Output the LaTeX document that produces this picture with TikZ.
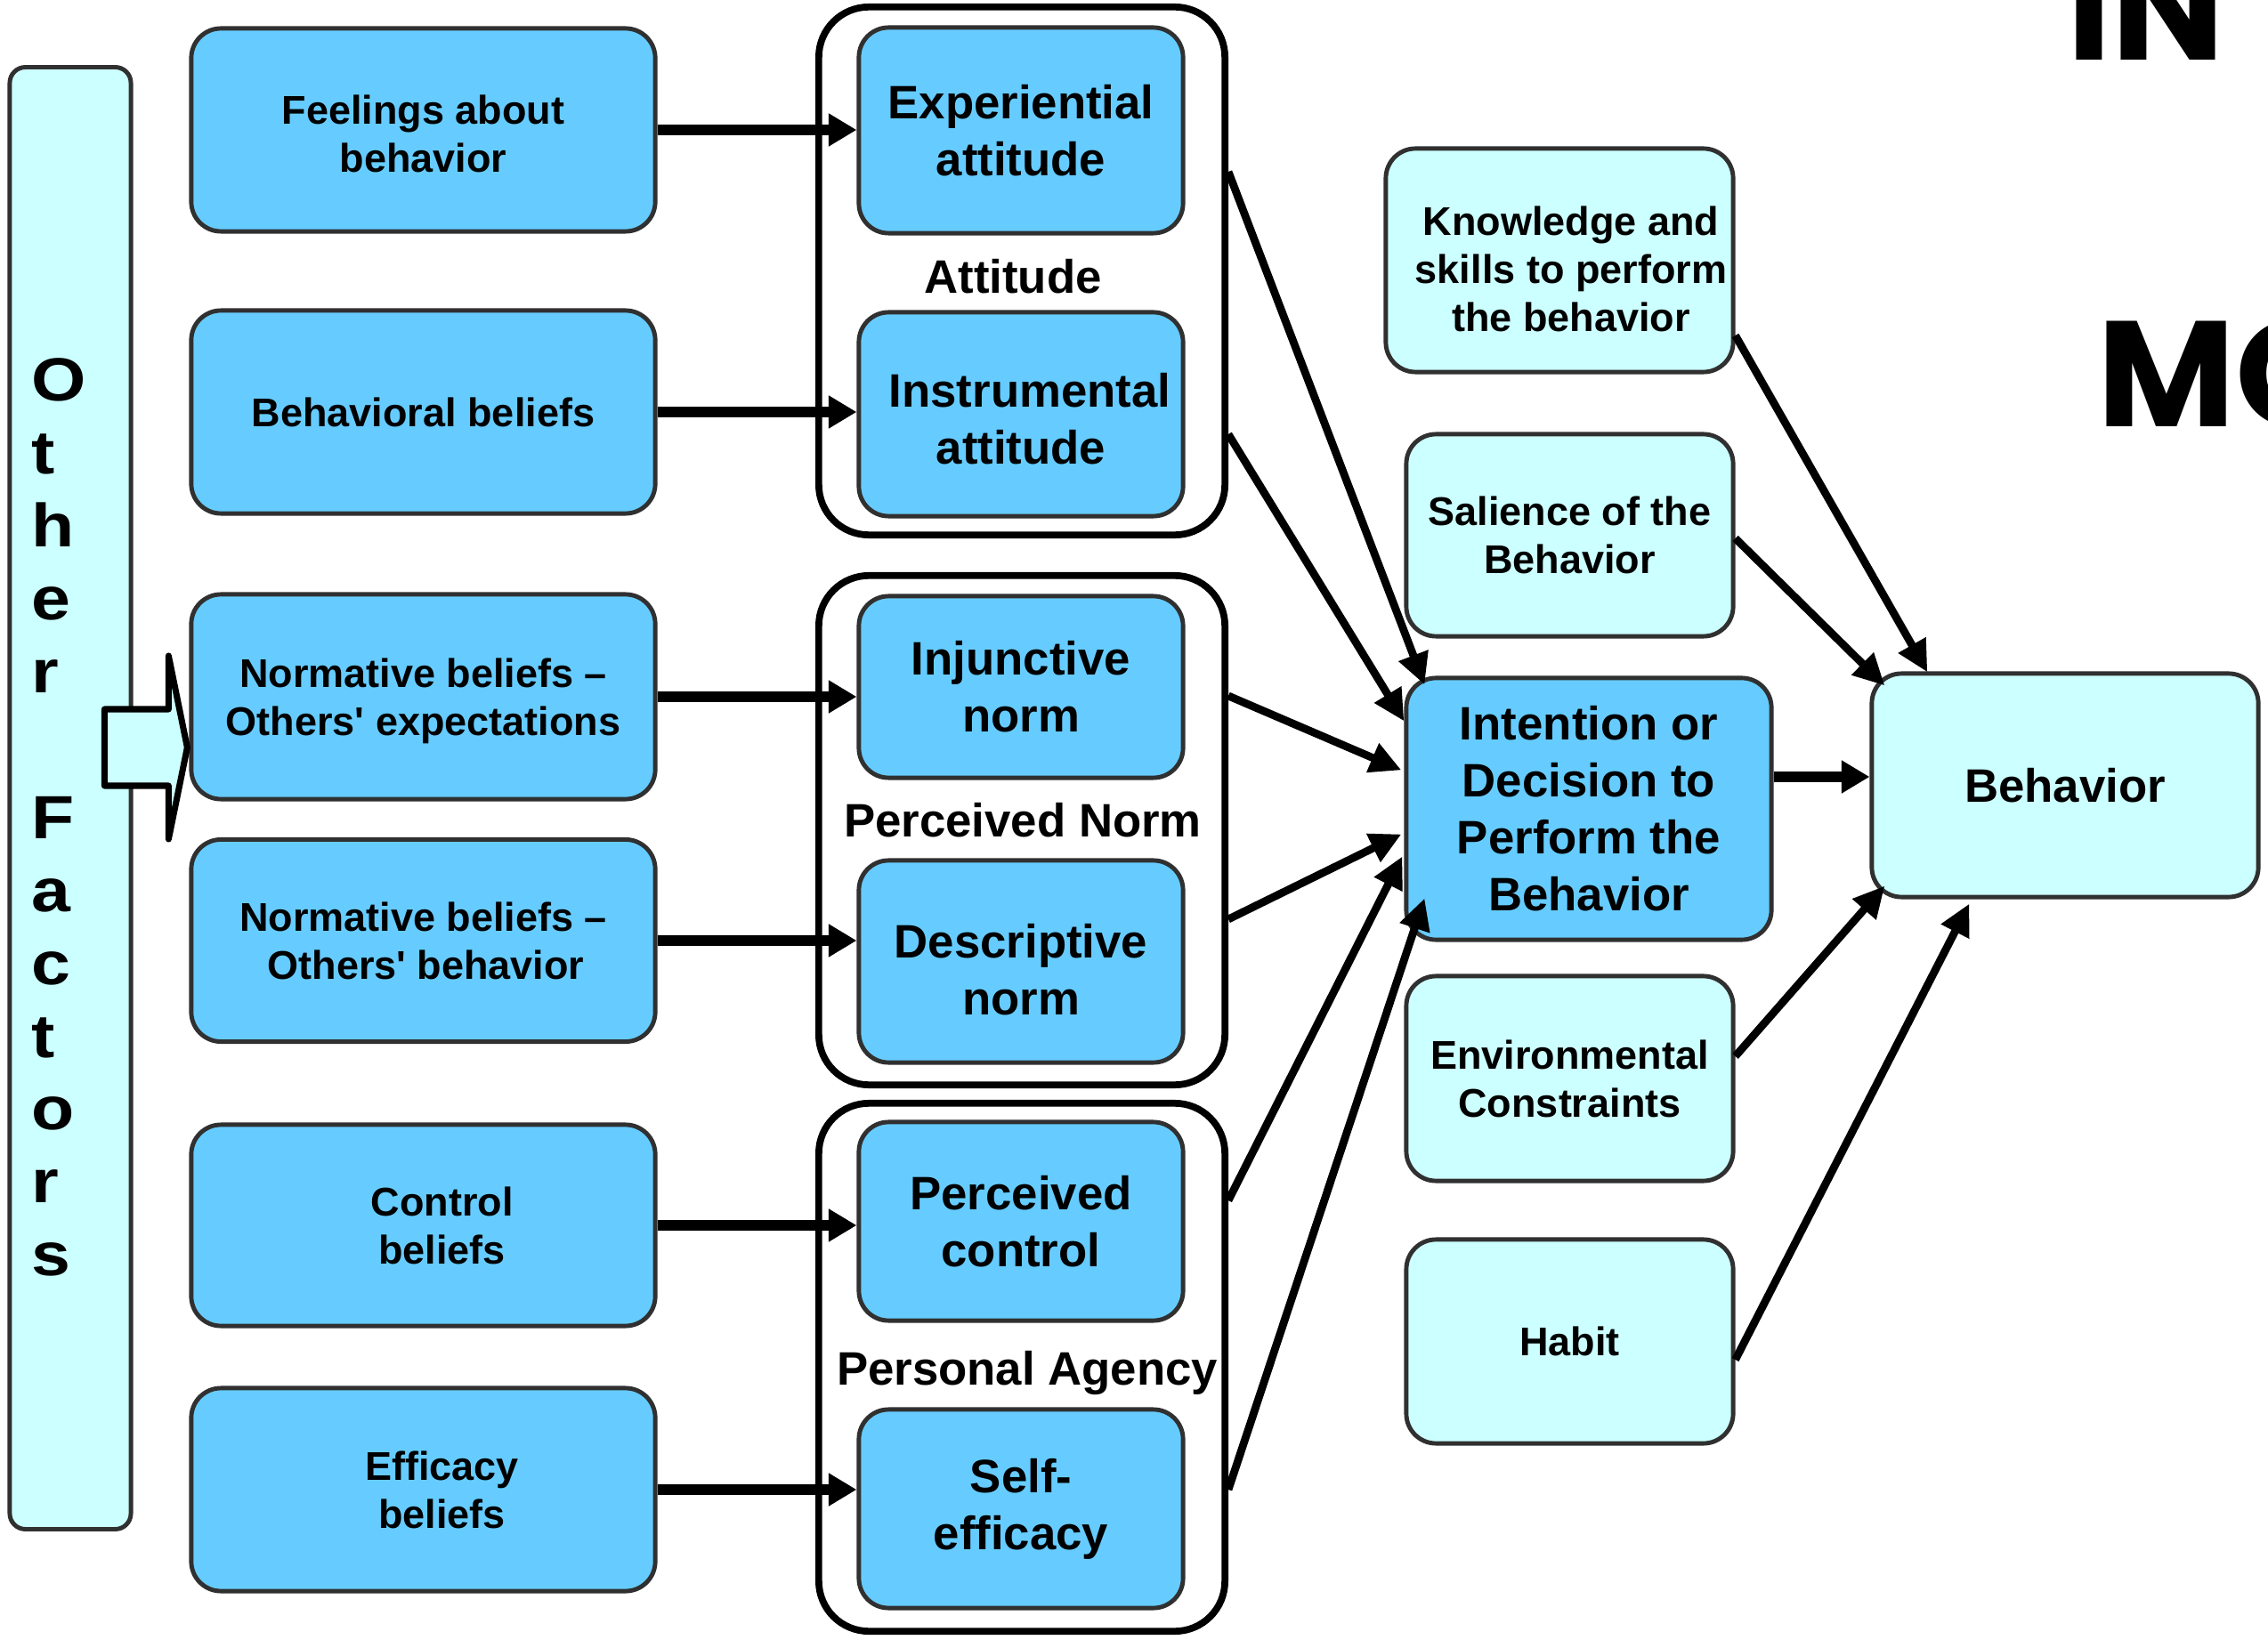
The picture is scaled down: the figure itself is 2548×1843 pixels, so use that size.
\documentclass[tikz,border=0pt]{standalone}
\usepackage{fontspec}
\setmainfont{Liberation Sans}
\newfontfamily\popfont{Poppins}
\usetikzlibrary{arrows.meta,calc}
\definecolor{boxblue}{HTML}{66CCFF}
\definecolor{boxcyan}{HTML}{CCFFFF}
\definecolor{boxline}{HTML}{303030}
\begin{document}
\begin{tikzpicture}[x=0.01cm,y=-0.01cm,
  bbox/.style={rectangle, rounded corners=9.5pt, fill=boxblue, draw=boxline, line width=1.4pt, align=center, inner sep=0pt},
  cbox/.style={bbox, fill=boxcyan},
  grpbox/.style={rectangle, rounded corners=16pt, draw=black, line width=2.2pt, fill=white, inner sep=0pt},
  sfnt/.style={font=\fontsize{12.8}{15.4}\selectfont\bfseries},
  lfnt/.style={font=\fontsize{15}{18.2}\selectfont\bfseries},
  harrow/.style={line width=3.2pt, -{Triangle[length=9pt,width=10pt]}},
  darrow/.style={line width=2.5pt, -{Triangle[length=10pt,width=9.5pt]}},
  grplabel/.style={lfnt, anchor=base, inner sep=0pt}
]
\fill[white] (0,0) rectangle (2548,1843);
\useasboundingbox (0,0) rectangle (2548,1843);

% Other factors bar
\node[cbox, rounded corners=5pt, minimum width=1.36cm, minimum height=16.42cm] (ofbar) at (79,897) {};
\begin{scope}[xscale=1.15, transform shape]
\node[anchor=north west, inner sep=0pt, align=left, font=\fontsize{19.5}{23.3}\selectfont\bfseries] (oft) at (30.5,402) {O\\t\\h\\e\\r\\\mbox{}\\F\\a\\c\\t\\o\\r\\s};
\end{scope}

% left column
\node[bbox, sfnt, minimum width=5.21cm, minimum height=2.28cm] (feel) at (475.5,146) {\rule{0pt}{12pt}Feelings about\\behavior};
\node[bbox, sfnt, minimum width=5.21cm, minimum height=2.28cm] (behb) at (475.5,463) {Behavioral beliefs};
\node[bbox, sfnt, minimum width=5.21cm, minimum height=2.30cm] (norm1) at (475.5,783) {\rule{0pt}{12pt}Normative beliefs –\\Others\textquotesingle{} expectations};
\node[bbox, sfnt, minimum width=5.21cm, minimum height=2.27cm] (norm2) at (475.5,1057) {Normative beliefs –\\\hspace*{0.06cm}Others\textquotesingle{} behavior};
\node[bbox, sfnt, minimum width=5.21cm, minimum height=2.26cm] (ctrl) at (475.5,1377) {\hspace*{0.42cm}Control\\\hspace*{0.42cm}beliefs};
\node[bbox, sfnt, minimum width=5.21cm, minimum height=2.28cm] (effi) at (475.5,1674) {\hspace*{0.42cm}Efficacy\\\hspace*{0.42cm}beliefs};

% block arrow from other factors
\coordinate (ofa) at ($(norm1.west)+(-2,57)$);
\draw[fill=boxcyan, line width=2pt, line join=round] (ofa) -- ++(-21,-103) -- ++(0,60) -- ++(-72,0) -- ++(0,86) -- ++(72,0) -- ++(0,60) -- cycle;

% groups
\node[grpbox, minimum width=4.56cm, minimum height=5.93cm] (grpA) at (1148,304.5) {};
\node[grpbox, minimum width=4.56cm, minimum height=5.72cm] (grpN) at (1148,933) {};
\node[grpbox, minimum width=4.56cm, minimum height=5.93cm] (grpP) at (1148,1536.5) {};

\node[bbox, lfnt, minimum width=3.64cm, minimum height=2.31cm] (exp) at (1147,146.5) {Experiential\\attitude};
\node[bbox, lfnt, minimum width=3.64cm, minimum height=2.29cm] (ins) at (1147,465.5) {\rule{0pt}{14pt}\hspace*{0.2cm}Instrumental\\attitude};
\node[bbox, lfnt, minimum width=3.64cm, minimum height=2.04cm] (inj) at (1147,772) {Injunctive\\norm};
\node[bbox, lfnt, minimum width=3.64cm, minimum height=2.27cm] (des) at (1147,1080.5) {\rule{0pt}{16pt}Descriptive\\norm};
\node[bbox, lfnt, minimum width=3.64cm, minimum height=2.23cm] (pc) at (1147,1372.5) {Perceived\\control};
\node[bbox, lfnt, minimum width=3.64cm, minimum height=2.23cm] (se) at (1147,1695.5) {Self-\\efficacy};

\node[grplabel] (attl) at (1138,330) {Attitude};
\node[grplabel] (pnl) at (1149,940) {Perceived Norm};
\node[grplabel] (pal) at (1154,1556) {Personal Agency};

% right side
\node[bbox, lfnt, minimum width=4.10cm, minimum height=2.94cm] (int) at (1785,909) {Intention or\\Decision to\\Perform the\\Behavior};
\node[cbox, sfnt, minimum width=3.90cm, minimum height=2.51cm] (know) at (1752,292.5) {\rule{0pt}{15pt}\hspace*{0.26cm}Knowledge and\\\hspace*{0.26cm}skills to perform\\\hspace*{0.26cm}the behavior};
\node[cbox, sfnt, minimum width=3.67cm, minimum height=2.27cm] (sal) at (1763.5,601.5) {Salience of the\\Behavior};
\node[cbox, sfnt, minimum width=3.67cm, minimum height=2.30cm] (env) at (1763.5,1212) {Environmental\\Constraints};
\node[cbox, sfnt, minimum width=3.67cm, minimum height=2.29cm] (hab) at (1763.5,1507.5) {Habit};
\node[cbox, lfnt, minimum width=4.34cm, minimum height=2.51cm] (beh) at (2320,882.5) {Behavior};

% horizontal arrows
\draw[harrow] (feel.east) -- (exp.west |- feel.east);
\draw[harrow] (behb.east) -- (ins.west |- behb.east);
\draw[harrow] (norm1.east) -- (inj.west |- norm1.east);
\draw[harrow] (norm2.east) -- (des.west |- norm2.east);
\draw[harrow] (ctrl.east) -- (pc.west |- ctrl.east);
\draw[harrow] (effi.east) -- (se.west |- effi.east);
\draw[harrow] (int.east |- 0,873) -- (beh.west |- 0,873);

% diagonal arrows into intention
\draw[darrow] (grpA.east |- 0,193) -- ($(int.north west)+(23,10)$);
\draw[darrow] (grpA.east |- 0,488) -- ($(int.north west)+(0,51)$);
\draw[darrow] (grpN.east |- 0,782) -- ($(int.north west)+(-3,106)$);
\draw[darrow] (grpN.east |- 0,1033) -- ($(int.north west)+(-3,178)$);
\draw[darrow] (grpP.east |- 0,1349) -- ($(int.north west)+(-2,203)$);
\draw[darrow] (grpP.east |- 0,1674) -- ($(int.north west)+(23,250)$);

% diagonal arrows into behavior
\draw[darrow] (know.east |- 0,377) -- ($(beh.north west)+(65,1)$);
\draw[darrow] (sal.east |- 0,605) -- ($(beh.north west)+(17,16)$);
\draw[darrow] (env.east |- 0,1187) -- ($(beh.south west)+(17,-15)$);
\draw[darrow] (hab.east |- 0,1528) -- ($(beh.south west)+(112,5)$);

% cropped title text
\begin{scope}
\clip (0,0) rectangle (2548,1843);
\node[anchor=base west, inner sep=0pt, font=\popfont\fontsize{48}{50}\selectfont\bfseries] (tin) at (2322,68) {IN};
\node[anchor=base west, inner sep=0pt, font=\popfont\fontsize{48}{50}\selectfont\bfseries] (tmo) at (2356,480) {MO};
\end{scope}
\end{tikzpicture}
\end{document}
